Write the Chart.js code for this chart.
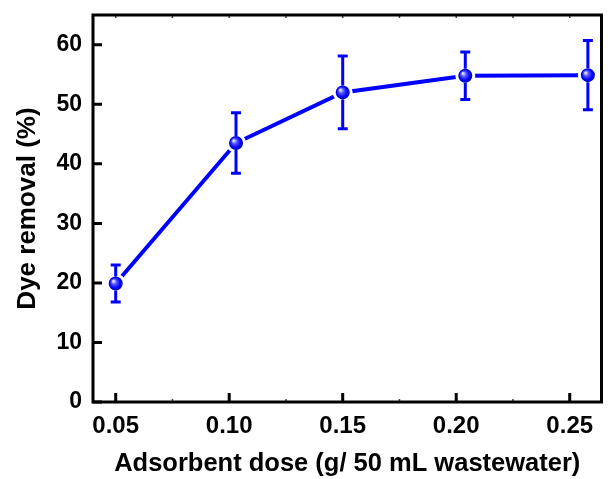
<!DOCTYPE html>
<html>
<head>
<meta charset="utf-8">
<script src="https://cdn.jsdelivr.net/npm/chart.js@4.4.1/dist/chart.umd.min.js"></script>
<style>
  html, body { margin: 0; padding: 0; background: #fff; }
  #wrap { width: 613px; height: 479px; }
</style>
</head>
<body>
<div id="wrap"><canvas id="doseChart" width="613" height="479"></canvas></div>
<script>
// values
const doses   = [0.05, 0.103, 0.15, 0.204, 0.258];
const removal = [19.9, 43.5, 52.0, 54.8, 54.9];
const errors  = [3.1, 5.1, 6.1, 4.0, 5.8];

const xTicks = [0.05, 0.10, 0.15, 0.20, 0.25];
const xMinorTicks = [0.05, 0.075, 0.10, 0.125, 0.15, 0.175, 0.20, 0.225, 0.25];
const yTicks = [0, 10, 20, 30, 40, 50, 60];

const blue = "#0000ff";
const fontName = "'Liberation Sans', Arial, sans-serif";
const markerRadius = 8.5;

// shiny ball look of the markers
function ballColor(ctx) {
  const chart = ctx.chart;
  if (ctx.type !== "data" || !chart.scales.x || !ctx.parsed) return blue;
  const px = chart.scales.x.getPixelForValue(ctx.parsed.x);
  const py = chart.scales.y.getPixelForValue(ctx.parsed.y);
  if (!isFinite(px) || !isFinite(py)) return blue;
  const g = chart.ctx.createRadialGradient(px - 2.5, py - 2.5, 0.5, px, py, 7);
  g.addColorStop(0, "#e8e8ff");
  g.addColorStop(0.35, "#5050ff");
  g.addColorStop(0.75, "#0000ff");
  g.addColorStop(1, "#0000b0");
  return g;
}

// no extra room around the plot for half labels
function noMargins(s) {
  s.paddingTop = 0; s.paddingBottom = 0;
  s.paddingLeft = 0; s.paddingRight = 0;
}

// error bars, frame and inward tick marks
const framePlugin = {
  id: "frame",
  afterDatasetsDraw(chart) {
    const c = chart.ctx;
    const xs = chart.scales.x, ys = chart.scales.y;
    c.save();
    c.strokeStyle = blue;
    c.lineWidth = 3;
    for (let i = 0; i < doses.length; i++) {
      const px = xs.getPixelForValue(doses[i]);
      const py = ys.getPixelForValue(removal[i]);
      const top = ys.getPixelForValue(removal[i] + errors[i]);
      const bot = ys.getPixelForValue(removal[i] - errors[i]);
      c.beginPath();
      c.moveTo(px, top); c.lineTo(px, py - 7);
      c.moveTo(px, py + 7); c.lineTo(px, bot);
      c.moveTo(px - 5, top); c.lineTo(px + 5, top);
      c.moveTo(px - 5, bot); c.lineTo(px + 5, bot);
      c.stroke();
    }
    c.restore();
  },
  afterDraw(chart) {
    const c = chart.ctx;
    const a = chart.chartArea;
    const xs = chart.scales.x, ys = chart.scales.y;
    c.save();
    // minor ticks
    c.lineWidth = 1.5;
    c.strokeStyle = "#444";
    c.beginPath();
    xMinorTicks.forEach(v => {
      const px = xs.getPixelForValue(v);
      c.moveTo(px, a.top); c.lineTo(px, a.top + 3);
      c.moveTo(px, a.bottom); c.lineTo(px, a.bottom - 3);
    });
    c.stroke();
    // major ticks
    c.strokeStyle = "#000";
    c.lineWidth = 3;
    c.beginPath();
    xTicks.forEach(v => {
      const px = xs.getPixelForValue(v);
      c.moveTo(px, a.bottom); c.lineTo(px, a.bottom - 9);
    });
    yTicks.forEach(v => {
      const py = ys.getPixelForValue(v);
      c.moveTo(a.left, py); c.lineTo(a.left + 9, py);
    });
    c.stroke();
    c.strokeRect(a.left, a.top, a.right - a.left, a.bottom - a.top);
    c.restore();
  }
};

const ctx = document.getElementById("doseChart");
new Chart(ctx, {
  type: "line",
  data: {
    datasets: [{
      data: doses.map((d, i) => ({ x: d, y: removal[i] })),
      borderColor: blue,
      borderWidth: 4,
      pointRadius: markerRadius,
      pointBorderWidth: 3,
      pointBorderColor: "#fff",
      pointBackgroundColor: ballColor,
      tension: 0,
      fill: false
    }]
  },
  options: {
    responsive: false,
    animation: false,
    events: [],
    layout: { padding: { left: 0, right: 1, top: 15, bottom: 0 } },
    plugins: { legend: { display: false }, tooltip: { enabled: false } },
    scales: {
      x: {
        type: "linear",
        min: 0.04,
        max: 0.264,
        afterBuildTicks: s => { s.ticks = xTicks.map(v => ({ value: v })); },
        afterFit: s => { s.height = 77; noMargins(s); },
        grid: { display: false, drawTicks: false },
        border: { display: false },
        ticks: {
          padding: 10,
          color: "#000",
          font: { family: fontName, size: 24, weight: "bold" },
          callback: v => v.toFixed(2)
        },
        title: {
          display: true,
          text: "Adsorbent dose (g/ 50 mL wastewater)",
          color: "#000",
          padding: { top: 11, bottom: 0 },
          font: { family: fontName, size: 25.5, weight: "bold" }
        }
      },
      y: {
        min: 0,
        max: 65,
        afterBuildTicks: s => { s.ticks = yTicks.map(v => ({ value: v })); },
        afterFit: s => { s.width = 93; noMargins(s); },
        grid: { display: false, drawTicks: false },
        border: { display: false },
        ticks: {
          padding: 11,
          color: "#000",
          font: { family: fontName, size: 23, weight: "bold" }
        },
        title: {
          display: true,
          text: "Dye removal (%)",
          color: "#000",
          padding: { top: 12, bottom: 4 },
          font: { family: fontName, size: 26, weight: "bold" }
        }
      }
    }
  },
  plugins: [framePlugin]
});
</script>
</body>
</html>
